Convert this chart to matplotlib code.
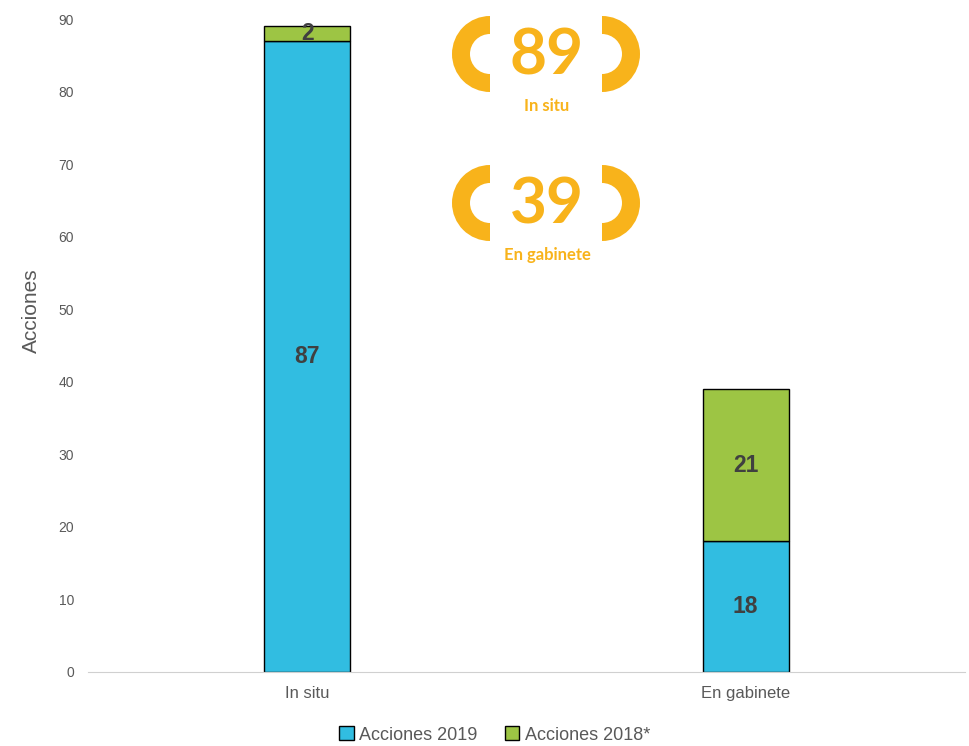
import matplotlib
matplotlib.use('Agg')
import matplotlib.pyplot as plt
from matplotlib.patches import Wedge

plt.rcParams['font.family'] = ['Liberation Sans', 'DejaVu Sans']

categorias = ['In situ', 'En gabinete']
acciones_2019 = [87, 18]
acciones_2018 = [2, 21]
totales = [89, 39]
etiquetas_total = ['In situ', 'En gabinete']

azul = '#31BDE1'
verde = '#9DC544'
naranja = '#F8B31B'
gris = '#595959'

fig = plt.figure(figsize=(9.7, 7.46), dpi=100)
ax = fig.add_axes([0.0907, 0.0992, 0.904, 0.8753])

x = list(range(len(categorias)))
ancho = 0.196
ax.bar(x, acciones_2019, ancho, color=azul, edgecolor='black', linewidth=1, label='Acciones 2019')
ax.bar(x, acciones_2018, ancho, bottom=acciones_2019, color=verde, edgecolor='black', linewidth=1, label='Acciones 2018*')

for i in x:
    ax.text(i, acciones_2019[i] / 2, str(acciones_2019[i]), ha='center', va='center',
            fontsize=16.5, fontweight='bold', color='#404040')
    ax.text(i, acciones_2019[i] + acciones_2018[i] / 2, str(acciones_2018[i]), ha='center', va='center',
            fontsize=16.5, fontweight='bold', color='#404040')

ax.set_xlim(-0.5, 1.5)
ax.set_ylim(0, 90)
ax.set_yticks(range(0, 91, 10))
ax.set_xticks(x)
ax.set_xticklabels(categorias, fontsize=12, color=gris)
ax.tick_params(axis='y', length=0, labelsize=10, labelcolor=gris, pad=10)
ax.tick_params(axis='x', length=0, pad=10)
for s in ['top', 'right', 'left']:
    ax.spines[s].set_visible(False)
ax.spines['bottom'].set_color('#D0D0D0')
ax.set_ylabel('Acciones', fontsize=15, color=gris)
ax.yaxis.set_label_coords(-0.054, 0.554)

fig.legend(loc='center', bbox_to_anchor=(0.51, 1 - 735 / 746), ncol=2, frameon=False,
           fontsize=13, handlelength=0.8, handleheight=0.8, handletextpad=0.3,
           columnspacing=1.5, labelcolor=gris)

# capa de anotaciones en pixeles
ov = fig.add_axes([0, 0, 1, 1], zorder=5)
ov.set_xlim(0, 970)
ov.set_ylim(746, 0)
ov.axis('off')
ov.patch.set_alpha(0)

centros_y = [54, 203]
for k in range(len(totales)):
    cy = centros_y[k]
    ov.add_patch(Wedge((490, cy), 38, 90, 270, width=18, facecolor=naranja, edgecolor='none'))
    ov.add_patch(Wedge((602, cy), 38, -90, 90, width=18, facecolor=naranja, edgecolor='none'))
    ov.text(547, cy + 2, str(totales[k]), ha='center', va='center', fontsize=46,
            fontweight='bold', color=naranja, family=['Lato', 'DejaVu Sans'])
    ov.text(547, cy + 52, etiquetas_total[k], ha='center', va='center', fontsize=12,
            fontweight='bold', color=naranja, family=['Lato', 'DejaVu Sans'])

fig.savefig('out.png', dpi=100)
